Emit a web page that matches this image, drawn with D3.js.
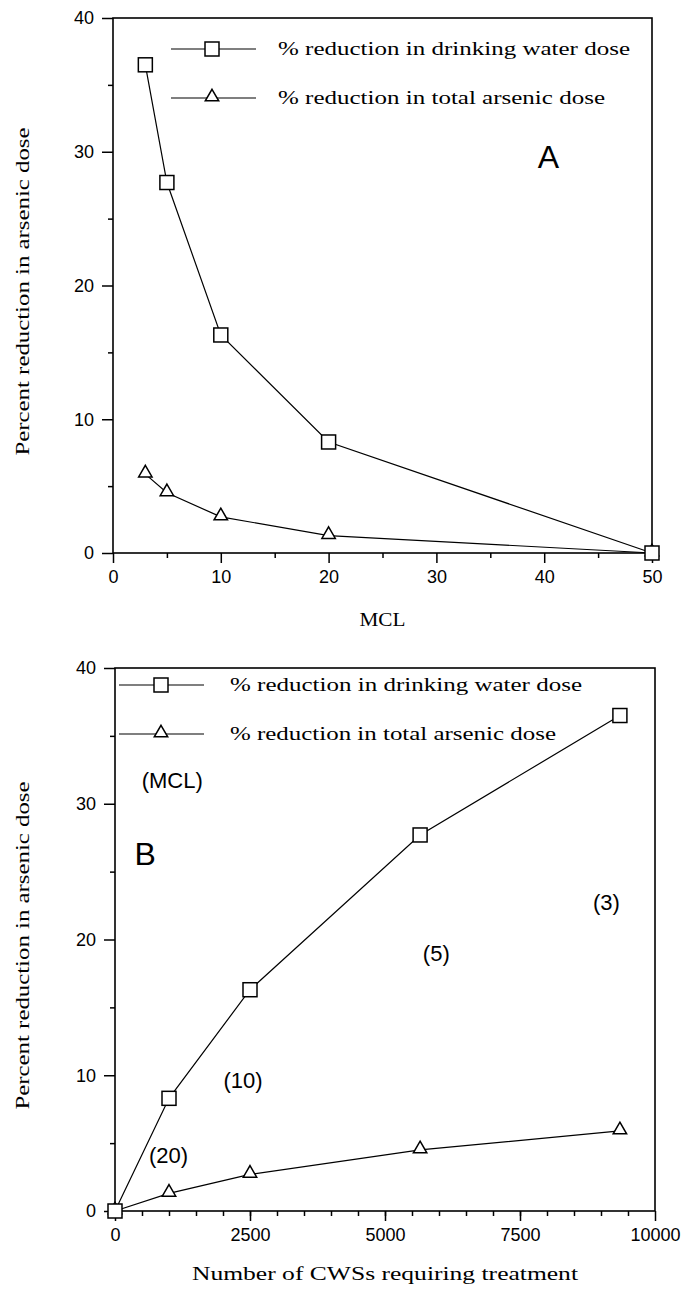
<!DOCTYPE html>
<html>
<head>
<meta charset="utf-8">
<script src="https://cdn.jsdelivr.net/npm/d3@7"></script>
<style>
  body { margin: 0; background: #fff; }
  svg { display: block; }
  .tick text { font-family: "Liberation Sans", Arial, sans-serif; font-size: 18px; fill: #000; }
  .tick line { stroke: #000; stroke-width: 1.5; }
</style>
</head>
<body>
<svg width="687" height="1291"></svg>
<script>
// MCL values (ug/L) and the matching number of community water systems
const mcl = [3, 5, 10, 20, 50];
const cwsCount = [9350, 5650, 2500, 1000, 0];
const drinkingWaterCut = [36.5, 27.7, 16.3, 8.3, 0];
const totalArsenicCut = [5.9, 4.5, 2.7, 1.3, 0];

const seriesNames = ["% reduction in drinking water dose", "% reduction in total arsenic dose"];
const yTitle = "Percent  reduction in arsenic dose";
const mclTicks = [0, 10, 20, 30, 40, 50];
const cwsTicks = [0, 2500, 5000, 7500, 10000];
const yTicks = [0, 10, 20, 30, 40];

const svg = d3.select("svg");
const serif = "'Liberation Serif', 'Times New Roman', serif";
const sans = "'Liberation Sans', Arial, sans-serif";

function panel(o) {
  const x = d3.scaleLinear().domain(o.xDomain).range([o.left, o.right]);
  const y = d3.scaleLinear().domain([0, 40]).range([o.bottom, o.top]);
  const g = svg.append("g");

  // minor ticks
  g.append("g").attr("transform", `translate(0,${o.bottom})`)
    .call(d3.axisBottom(x).tickValues(o.xMinor).tickSize(5).tickFormat(""))
    .call(s => s.select(".domain").remove());
  g.append("g").attr("transform", `translate(${o.left},0)`)
    .call(d3.axisLeft(y).tickValues([5, 15, 25, 35]).tickSize(5).tickFormat(""))
    .call(s => s.select(".domain").remove());

  g.append("g").attr("transform", `translate(0,${o.bottom})`)
    .call(d3.axisBottom(x).tickValues(o.xTicks).tickSize(10).tickPadding(7).tickFormat(d3.format("d")))
    .call(s => s.select(".domain").remove());
  g.append("g").attr("transform", `translate(${o.left},0)`)
    .call(d3.axisLeft(y).tickValues(yTicks).tickSize(11).tickPadding(8).tickFormat(d3.format("d")))
    .call(s => s.select(".domain").remove());

  g.append("rect")
    .attr("x", o.left).attr("y", o.top)
    .attr("width", o.right - o.left).attr("height", o.bottom - o.top)
    .attr("fill", "none").attr("stroke", "#000").attr("stroke-width", 1.6);

  const line = d3.line().x(d => x(d[0])).y(d => y(d[1]));
  const sq = o.xs.map((v, i) => [v, drinkingWaterCut[i]]);
  const tr = o.xs.map((v, i) => [v, totalArsenicCut[i]]);

  g.append("path").attr("d", line(tr)).attr("fill", "none").attr("stroke", "#000").attr("stroke-width", 1.2);
  g.append("path").attr("d", line(sq)).attr("fill", "none").attr("stroke", "#000").attr("stroke-width", 1.2);

  const tri = d3.symbol().type(d3.symbolTriangle).size(78);
  g.selectAll(".tri").data(tr).join("path")
    .attr("transform", d => `translate(${x(d[0])},${y(d[1]) - 1})`)
    .attr("d", tri).attr("fill", "#fff").attr("stroke", "#000").attr("stroke-width", 1.5);
  g.selectAll(".sq").data(sq).join("rect")
    .attr("x", d => x(d[0]) - 7).attr("y", d => y(d[1]) - 7)
    .attr("width", 14).attr("height", 14)
    .attr("fill", "#fff").attr("stroke", "#000").attr("stroke-width", 1.5);

  // legend
  o.legendY.forEach((ly, i) => {
    g.append("line").attr("x1", o.legendX[0]).attr("x2", o.legendX[2])
      .attr("y1", ly).attr("y2", ly).attr("stroke", "#000").attr("stroke-width", 1.2);
    if (i === 0) {
      g.append("rect").attr("x", o.legendX[1] - 7).attr("y", ly - 7).attr("width", 14).attr("height", 14)
        .attr("fill", "#fff").attr("stroke", "#000").attr("stroke-width", 1.5);
    } else {
      g.append("path").attr("transform", `translate(${o.legendX[1]},${ly - 1})`)
        .attr("d", tri).attr("fill", "#fff").attr("stroke", "#000").attr("stroke-width", 1.5);
    }
    g.append("text").attr("x", o.legendX[3]).attr("y", ly + 6)
      .attr("font-family", serif).attr("font-size", 18)
      .attr("textLength", o.legendLen[i]).attr("lengthAdjust", "spacingAndGlyphs")
      .text(seriesNames[i]);
  });

  // axis titles
  g.append("text")
    .attr("transform", `translate(29,${(o.top + o.bottom) / 2 + 6}) rotate(-90)`)
    .attr("text-anchor", "middle")
    .attr("font-family", serif).attr("font-size", 19)
    .attr("textLength", 328).attr("lengthAdjust", "spacingAndGlyphs")
    .text(yTitle);
  g.append("text")
    .attr("x", (o.left + o.right) / 2).attr("y", o.xTitleY)
    .attr("text-anchor", "middle")
    .attr("font-family", serif).attr("font-size", 19)
    .attr("textLength", o.xTitleLen).attr("lengthAdjust", "spacingAndGlyphs")
    .text(o.xTitle);

  // annotations
  g.selectAll(".ann").data(o.notes).join("text")
    .attr("x", d => x(d.x)).attr("y", d => y(d.y))
    .attr("text-anchor", "middle").attr("dominant-baseline", "central")
    .attr("font-family", sans).attr("font-size", d => d.size)
    .text(d => d.t);
}

panel({
  left: 113, right: 652, top: 18, bottom: 553,
  xDomain: [0, 50], xTicks: mclTicks, xMinor: d3.range(5, 50, 10),
  xs: mcl,
  legendY: [49, 98], legendX: [171, 212, 256, 278], legendLen: [352, 327],
  xTitle: "MCL", xTitleY: 626, xTitleLen: 46,
  notes: [{ t: "A", x: 40.4, y: 29.6, size: 32 }]
});

panel({
  left: 115, right: 655, top: 668, bottom: 1211,
  xDomain: [0, 10000], xTicks: cwsTicks, xMinor: d3.range(500, 10000, 500),
  xs: cwsCount,
  legendY: [685, 734], legendX: [119, 161, 204, 230], legendLen: [352, 326],
  xTitle: "Number of CWSs requiring treatment", xTitleY: 1280, xTitleLen: 386,
  notes: [
    { t: "(MCL)", x: 1060, y: 31.7, size: 22 },
    { t: "B", x: 560, y: 26.3, size: 32 },
    { t: "(20)", x: 990, y: 4.1, size: 22 },
    { t: "(10)", x: 2370, y: 9.6, size: 22 },
    { t: "(5)", x: 5950, y: 19.0, size: 22 },
    { t: "(3)", x: 9100, y: 22.7, size: 22 }
  ]
});
</script>
</body>
</html>
